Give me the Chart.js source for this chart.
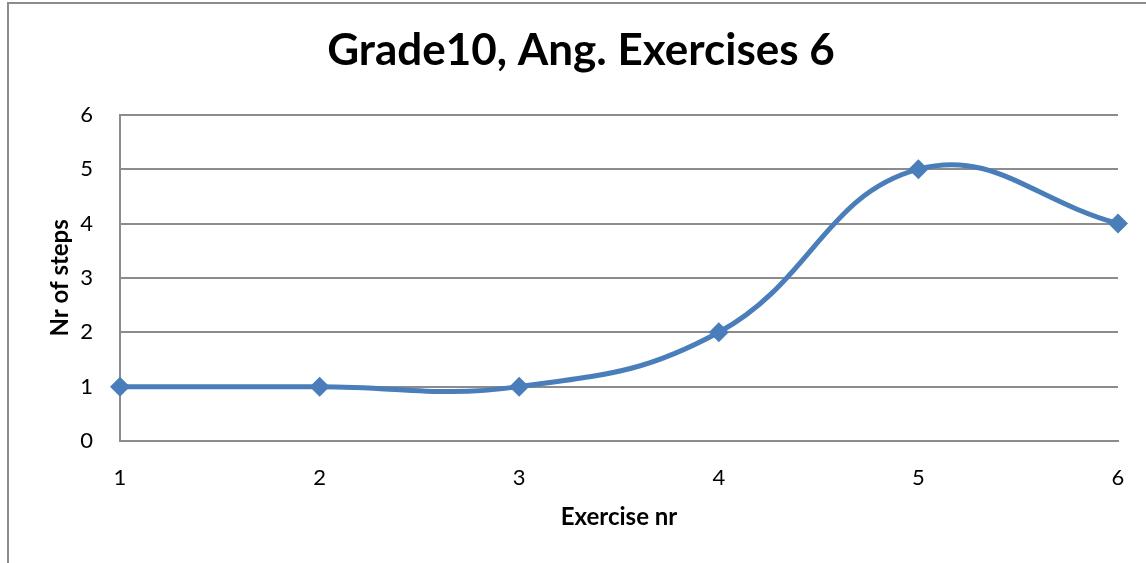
<!DOCTYPE html>
<html>
<head>
<meta charset="utf-8">
<script src="https://cdn.jsdelivr.net/npm/chart.js@4"></script>
<style>
  html, body { margin: 0; padding: 0; background: #fff; }
  #wrap { position: relative; width: 1146px; height: 563px; overflow: hidden; }
  #frame { position: absolute; left: 7px; top: 2px; width: 1200px; height: 600px; border-left: 2px solid #8c8c8c; border-top: 2px solid #8c8c8c; }
  canvas { position: absolute; left: 0; top: 0; }
</style>
</head>
<body>
<div id="wrap">
  <div id="frame"></div>
  <canvas id="chart" width="1146" height="563"></canvas>
</div>
<script>
// chart data
const exercises = ['1', '2', '3', '4', '5', '6'];
const steps = [1, 1, 1, 2, 5, 4];
const yTicks = [0, 1, 2, 3, 4, 5, 6];

const LINE_BLUE = '#4a7ebb';
const GRID_GREY = '#8c8c8c';
const FONT = 'Lato, "Open Sans", sans-serif';

let ctx = document.getElementById('chart');
let chart = new Chart(ctx, {
    type: 'line',
    data: {
        labels: exercises,
        datasets: [{
            label: 'Nr of steps',
            data: steps,
            borderColor: LINE_BLUE,
            backgroundColor: LINE_BLUE,
            borderWidth: 5,
            tension: 0.42,
            pointStyle: 'rectRot',
            pointRadius: 10,
            pointBorderWidth: 0,
            pointBackgroundColor: LINE_BLUE,
            clip: false,
        }]
    },
    options: {
        responsive: false,
        animation: false,
        layout: {
            // left/right padding differ so the title centres where the reference has it
            padding: { left: 44, right: 28, top: 0, bottom: 0 }
        },
        plugins: {
            legend: { display: false },
            tooltip: { enabled: false },
            title: {
                display: true,
                text: 'Grade10, Ang. Exercises 6',
                color: '#000',
                font: { family: FONT, size: 44, weight: 'bold' },
                padding: { top: 24, bottom: 38 }
            }
        },
        scales: {
            x: {
                offset: false,
                grid: { display: false },
                border: { display: true, color: GRID_GREY, width: 2 },
                ticks: {
                    color: '#000',
                    font: { family: FONT, size: 22 },
                    padding: 16,
                    maxRotation: 0
                },
                title: {
                    display: true,
                    text: 'Exercise nr',
                    color: '#000',
                    font: { family: FONT, size: 24, weight: 'bold' },
                    padding: { top: 0, bottom: 31 }
                },
                afterFit: function(scale) { scale.height = 122; }
            },
            y: {
                min: 0,
                max: 6,
                afterBuildTicks: function(scale) {
                    scale.ticks = yTicks.map(v => ({ value: v }));
                },
                grid: {
                    color: GRID_GREY,
                    lineWidth: 2,
                    drawTicks: false
                },
                border: { display: true, color: GRID_GREY, width: 2 },
                ticks: {
                    color: '#000',
                    font: { family: FONT, size: 22 },
                    padding: 27
                },
                title: {
                    display: true,
                    text: 'Nr of steps',
                    color: '#000',
                    font: { family: FONT, size: 24, weight: 'bold' },
                    padding: { top: 2, bottom: 0 }
                },
                afterFit: function(scale) { scale.width = 76; }
            }
        }
    }
});
</script>
</body>
</html>
